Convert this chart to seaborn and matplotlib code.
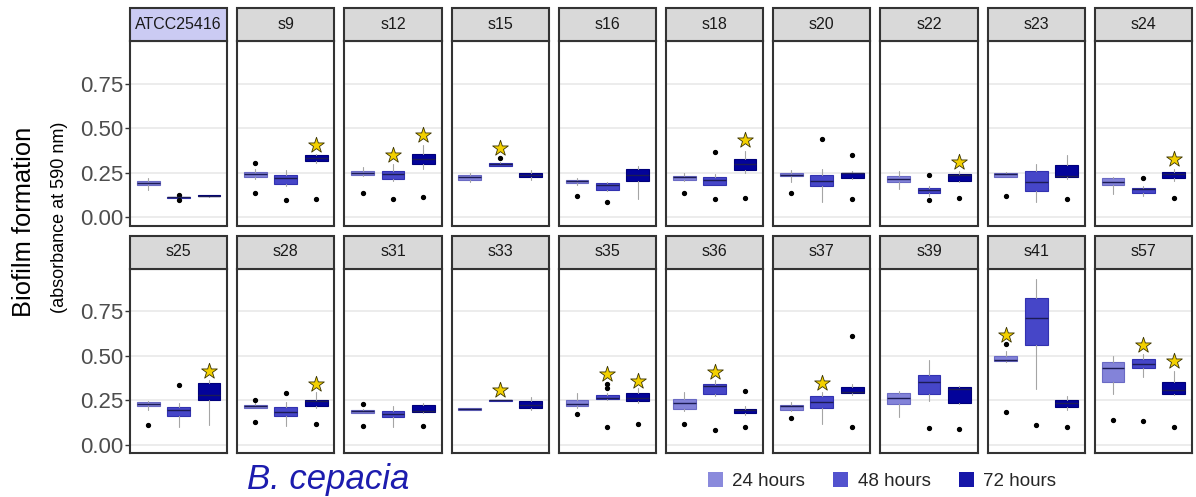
import matplotlib
matplotlib.use("Agg")
import matplotlib.pyplot as plt
from matplotlib.patches import Rectangle, Patch
import pandas as pd
import seaborn as sns

sns.set_theme(style="white")
plt.rcParams["font.family"] = ["Liberation Sans", "DejaVu Sans"]

strains = ["ATCC25416", "s9", "s12", "s15", "s16", "s18", "s20", "s22", "s23", "s24",
           "s25", "s28", "s31", "s33", "s35", "s36", "s37", "s39", "s41", "s57"]
hours = ["24 hours", "48 hours", "72 hours"]

# Box statistics per strain; columns are 24 h, 48 h, 72 h
whisker_low = [
    [0.155, 0.110, 0.117], [0.216, 0.179, 0.306], [0.235, 0.205, 0.273], [0.197, 0.286, 0.210],
    [0.182, 0.150, 0.103], [0.205, 0.180, 0.248], [0.197, 0.088, 0.215], [0.158, 0.118, 0.200],
    [0.225, 0.085, 0.216], [0.132, 0.118, 0.207], [0.197, 0.099, 0.113], [0.210, 0.109, 0.206],
    [0.180, 0.103, 0.180], [0.199, 0.246, 0.197], [0.206, 0.255, 0.235], [0.188, 0.272, 0.170],
    [0.190, 0.118, 0.281], [0.156, 0.244, 0.230], [0.465, 0.313, 0.197], [0.287, 0.379, 0.281],
]
q1 = [
    [0.182, 0.111, 0.118], [0.226, 0.190, 0.316], [0.241, 0.214, 0.300], [0.212, 0.291, 0.229],
    [0.192, 0.156, 0.203], [0.210, 0.184, 0.269], [0.230, 0.175, 0.220], [0.197, 0.139, 0.205],
    [0.227, 0.148, 0.229], [0.182, 0.139, 0.220], [0.216, 0.165, 0.250], [0.210, 0.165, 0.216],
    [0.182, 0.156, 0.184], [0.199, 0.248, 0.205], [0.220, 0.259, 0.248], [0.203, 0.287, 0.178],
    [0.197, 0.205, 0.291], [0.231, 0.285, 0.236], [0.469, 0.563, 0.212], [0.353, 0.430, 0.285],
]
medians = [
    [0.194, 0.113, 0.121], [0.246, 0.220, 0.331], [0.250, 0.244, 0.329], [0.226, 0.300, 0.239],
    [0.203, 0.182, 0.240], [0.226, 0.210, 0.300], [0.237, 0.205, 0.248], [0.216, 0.154, 0.240],
    [0.244, 0.201, 0.235], [0.201, 0.158, 0.244], [0.229, 0.199, 0.283], [0.220, 0.186, 0.244],
    [0.190, 0.175, 0.190], [0.204, 0.251, 0.227], [0.231, 0.265, 0.263], [0.235, 0.332, 0.197],
    [0.216, 0.242, 0.295], [0.266, 0.356, 0.313], [0.478, 0.711, 0.235], [0.433, 0.456, 0.310],
]
q3 = [
    [0.205, 0.115, 0.126], [0.256, 0.239, 0.348], [0.259, 0.259, 0.357], [0.241, 0.308, 0.248],
    [0.212, 0.194, 0.271], [0.235, 0.229, 0.329], [0.248, 0.239, 0.252], [0.235, 0.165, 0.246],
    [0.252, 0.263, 0.297], [0.220, 0.165, 0.256], [0.240, 0.214, 0.345], [0.227, 0.212, 0.251],
    [0.197, 0.188, 0.225], [0.210, 0.253, 0.246], [0.253, 0.278, 0.289], [0.257, 0.340, 0.203],
    [0.225, 0.272, 0.328], [0.289, 0.390, 0.323], [0.497, 0.826, 0.250], [0.465, 0.484, 0.356],
]
whisker_high = [
    [0.220, 0.117, 0.128], [0.270, 0.267, 0.357], [0.282, 0.300, 0.404], [0.252, 0.312, 0.267],
    [0.222, 0.200, 0.289], [0.248, 0.244, 0.372], [0.267, 0.273, 0.260], [0.263, 0.179, 0.263],
    [0.256, 0.300, 0.350], [0.226, 0.179, 0.273], [0.248, 0.235, 0.366], [0.235, 0.240, 0.295],
    [0.200, 0.216, 0.235], [0.210, 0.255, 0.268], [0.291, 0.290, 0.319], [0.298, 0.366, 0.220],
    [0.240, 0.300, 0.343], [0.302, 0.478, 0.330], [0.525, 0.929, 0.276], [0.497, 0.510, 0.413],
]
outliers = {
    ("ATCC25416", 1): [0.126, 0.099],
    ("s9", 0): [0.306, 0.139], ("s9", 1): [0.096], ("s9", 2): [0.105],
    ("s12", 0): [0.139], ("s12", 1): [0.105], ("s12", 2): [0.117],
    ("s15", 1): [0.331],
    ("s16", 0): [0.122], ("s16", 1): [0.088],
    ("s18", 0): [0.139], ("s18", 1): [0.367, 0.105], ("s18", 2): [0.107],
    ("s20", 0): [0.139], ("s20", 1): [0.440], ("s20", 2): [0.350, 0.103],
    ("s22", 1): [0.239, 0.098], ("s22", 2): [0.109],
    ("s23", 0): [0.118], ("s23", 2): [0.103],
    ("s24", 1): [0.224], ("s24", 2): [0.109],
    ("s25", 0): [0.114], ("s25", 1): [0.336],
    ("s28", 0): [0.251, 0.128], ("s28", 1): [0.293], ("s28", 2): [0.118],
    ("s31", 0): [0.231, 0.109], ("s31", 2): [0.109],
    ("s35", 0): [0.173], ("s35", 1): [0.343, 0.321, 0.099], ("s35", 2): [0.118],
    ("s36", 0): [0.120], ("s36", 1): [0.084], ("s36", 2): [0.302, 0.103],
    ("s37", 0): [0.150], ("s37", 2): [0.610, 0.101],
    ("s39", 1): [0.098], ("s39", 2): [0.088],
    ("s41", 0): [0.567, 0.186], ("s41", 1): [0.114], ("s41", 2): [0.101],
    ("s57", 0): [0.141], ("s57", 1): [0.135], ("s57", 2): [0.103],
}
# significance stars: (strain, time index, height)
stars = [("s9", 2, 0.404), ("s12", 1, 0.351), ("s12", 2, 0.462), ("s15", 1, 0.387),
         ("s18", 2, 0.432), ("s22", 2, 0.310), ("s24", 2, 0.327), ("s25", 2, 0.413),
         ("s28", 2, 0.343), ("s33", 1, 0.306), ("s35", 1, 0.400), ("s35", 2, 0.360),
         ("s36", 1, 0.409), ("s37", 1, 0.347), ("s41", 0, 0.619), ("s57", 1, 0.561),
         ("s57", 2, 0.469)]

fill_colors = ["#8383D9", "#4646C8", "#03039A"]
edge_colors = ["#6A6AC4", "#3232B0", "#00007A"]
legend_colors = ["#8A8ADC", "#5252CE", "#1616A8"]

rows = []
for i, s in enumerate(strains):
    for h in range(3):
        rows.append(dict(strain=s, hour=h, whislo=whisker_low[i][h], q1=q1[i][h],
                         med=medians[i][h], q3=q3[i][h], whishi=whisker_high[i][h],
                         fliers=outliers.get((s, h), [])))
df = pd.DataFrame(rows)


def draw_panel(data, **kws):
    ax = plt.gca()
    data = data.sort_values("hour")
    stats = [dict(whislo=r.whislo, q1=r.q1, med=r.med, q3=r.q3, whishi=r.whishi,
                  fliers=list(r.fliers)) for r in data.itertuples()]
    art = ax.bxp(stats, positions=list(data["hour"]), widths=0.75, patch_artist=True,
                 showcaps=False,
                 whiskerprops=dict(color="#A5A5A5", lw=0.8),
                 medianprops=dict(color="#1C1C55", lw=1.0),
                 flierprops=dict(marker="o", markersize=2.8, markerfacecolor="black",
                                 markeredgecolor="black"))
    for h, box in zip(data["hour"], art["boxes"]):
        box.set_facecolor(fill_colors[h])
        box.set_edgecolor(edge_colors[h])
        box.set_linewidth(0.8)
    name = data["strain"].iloc[0]
    for s, h, y in stars:
        if s == name:
            ax.scatter([h], [y], marker="*", s=140, facecolor="#F3D000",
                       edgecolor="#3A3300", linewidth=0.6, zorder=5)


g = sns.FacetGrid(df, col="strain", col_wrap=10, col_order=strains, sharey=True,
                  sharex=True, despine=False, height=2.0, aspect=0.5)
g.map_dataframe(draw_panel)
g.set_titles("")
g.set_axis_labels("", "")

fig = g.figure
fig.set_size_inches(11.96, 4.97)
fig.subplots_adjust(left=130 / 1196, right=1192 / 1196, top=1 - 41 / 497,
                    bottom=1 - 453 / 497, wspace=10 / 97.2, hspace=43 / 184.5)

strip_h = 33 / 184.5
for i, (ax, s) in enumerate(zip(g.axes.flat, strains)):
    ax.set_xlim(-0.6, 2.6)
    ax.set_ylim(-0.045, 0.99)
    ax.set_xticks([])
    ax.set_yticks([0, 0.25, 0.5, 0.75])
    ax.set_yticklabels(["0.00", "0.25", "0.50", "0.75"])
    ax.set_xlabel("")
    ax.set_ylabel("")
    ax.set_facecolor("white")
    ax.grid(axis="y", color="#EBEBEB", lw=1.3)
    ax.grid(axis="x", visible=False)
    ax.set_axisbelow(True)
    for sp in ax.spines.values():
        sp.set_visible(True)
        sp.set_color("#333333")
        sp.set_linewidth(1.5)
    if i % 10 == 0:
        ax.tick_params(axis="y", left=True, length=3.5, width=1.0, color="#333333",
                       labelcolor="#4D4D4D", labelsize=16, pad=1.5, labelleft=True)
    else:
        ax.tick_params(axis="y", left=False, labelleft=False)
    face = "#CBCBF3" if s == "ATCC25416" else "#D9D9D9"
    ax.add_patch(Rectangle((0, 1), 1, strip_h, transform=ax.transAxes, clip_on=False,
                           facecolor=face, edgecolor="#333333", lw=1.5, zorder=3))
    ax.text(0.5, 1 + strip_h / 2, s, transform=ax.transAxes, ha="center", va="center",
            fontsize=11.5, color="#1A1A1A", zorder=4)

fig.text(24 / 1196, 1 - 222 / 497, "Biofilm formation", rotation=90, ha="center",
         va="center", fontsize=18.4, color="black")
fig.text(60 / 1196, 1 - 217 / 497, "(absorbance at 590 nm)", rotation=90, ha="center",
         va="center", fontsize=13, color="black")
fig.text(328 / 1196, 1 - 489 / 497, "B. cepacia", style="italic", ha="center",
         va="baseline", fontsize=25, color="#1C1CAE")

handles = [Patch(facecolor=c, edgecolor="none", label=l) for c, l in zip(legend_colors, hours)]
fig.legend(handles=handles, loc="center left", bbox_to_anchor=(708 / 1196, 1 - 481 / 497),
           ncol=3, frameon=False, fontsize=13.5, handlelength=0.8, handleheight=0.8,
           handletextpad=0.5, columnspacing=1.5, borderpad=0, borderaxespad=0)

fig.savefig("out.png", dpi=100)
